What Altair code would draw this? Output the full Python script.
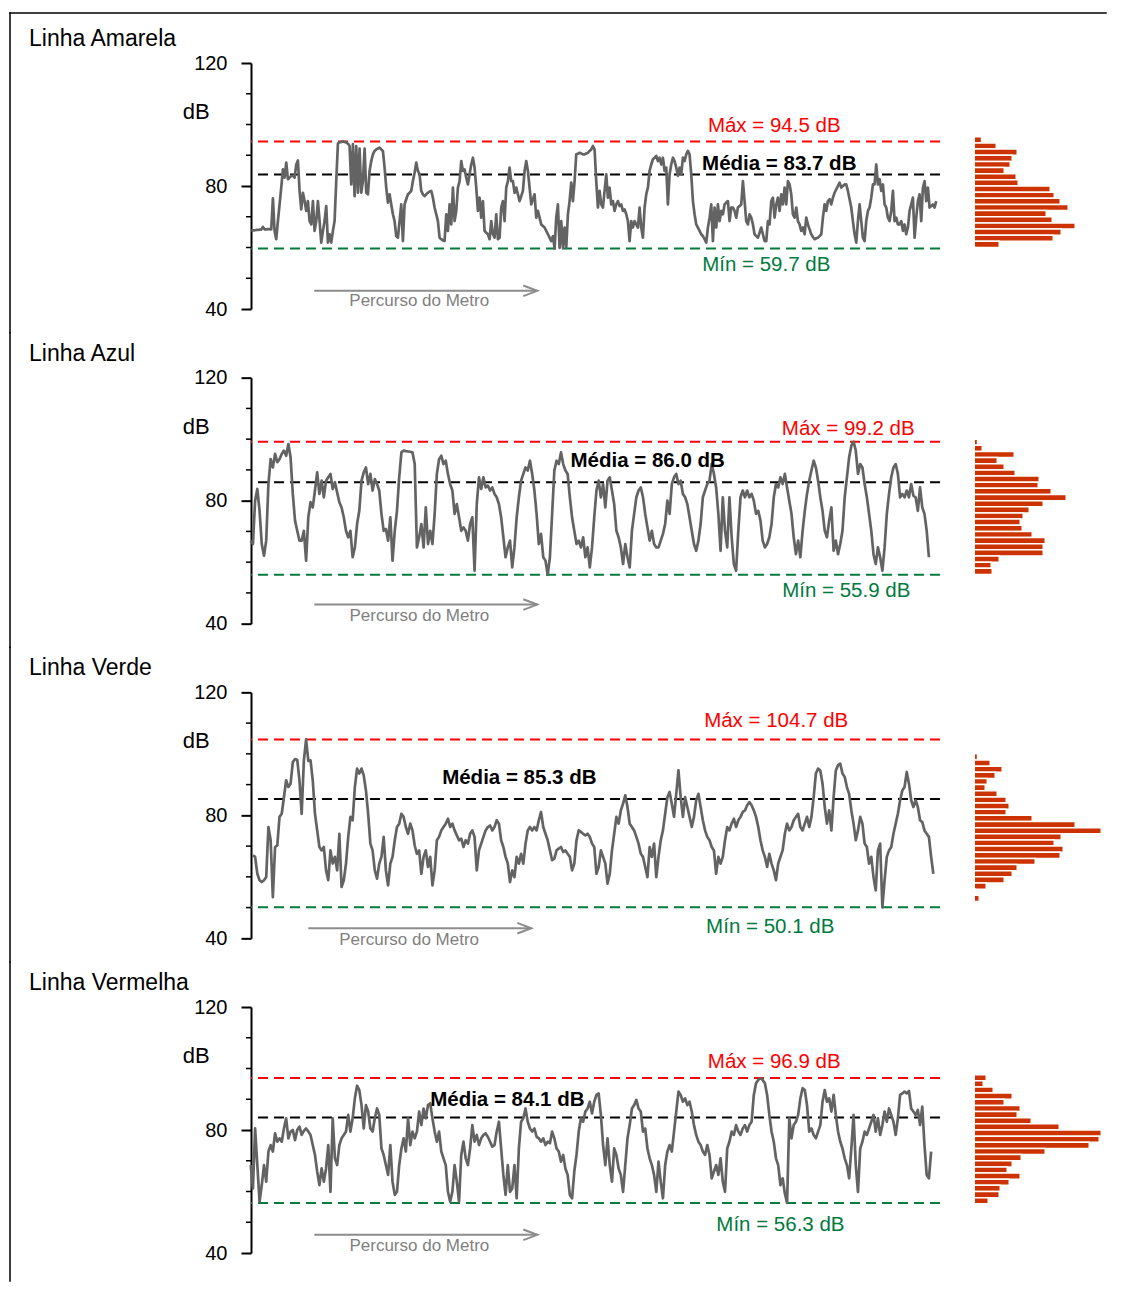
import altair as alt
import pandas as pd

FONT = "Liberation Sans"
W, H = 689, 246
ROW_GAP = 68.67
COL_GAP = 34.25
LINE_COLOR = "#636363"
RED = "#FF0000"
GREEN = "#007A3D"
BAR = "#CC3300"
ROUTE_GRAY = "#8C8C8C"

NAMES = ["Linha Amarela", "Linha Azul", "Linha Verde", "Linha Vermelha"]
MAX_DB = [94.5, 99.2, 104.7, 96.9]
MEAN_DB = [83.7, 86.0, 85.3, 84.1]
MIN_DB = [59.7, 55.9, 50.1, 56.3]

# sound level samples (dB) along each journey
P1_DB = [
    65.6, 65.6, 65.6, 65.7, 65.7, 65.8, 65.8, 66.7, 65.9, 65.9,
    66.0, 66.0, 65.9, 76.0, 65.4, 62.7, 68.6, 74.0, 79.5, 85.4,
    82.7, 87.6, 82.2, 82.7, 83.3, 83.3, 82.7, 87.0, 88.3, 78.4,
    72.4, 77.8, 75.1, 71.9, 75.1, 68.6, 67.5, 75.1, 65.4, 68.6,
    75.1, 68.6, 61.6, 65.4, 68.6, 73.5, 61.6, 64.3, 61.6, 65.4,
    68.6, 81.6, 93.8, 94.3, 94.3, 94.5, 94.4, 94.1, 93.8, 93.0,
    80.5, 93.6, 76.7, 93.0, 77.8, 92.2, 77.8, 81.6, 92.2, 77.8,
    77.3, 84.9, 88.1, 90.3, 91.4, 91.9, 92.2, 92.5, 91.9, 91.4,
    86.0, 79.5, 74.6, 77.3, 74.0, 70.8, 68.6, 63.7, 63.2, 68.6,
    74.0, 62.1, 74.0, 75.7, 77.3, 77.8, 78.4, 81.6, 84.3, 87.6,
    84.9, 83.8, 78.4, 77.3, 76.7, 77.3, 77.8, 78.2, 78.4, 76.2,
    73.0, 70.8, 68.6, 63.2, 62.7, 62.3, 62.1, 70.8, 65.4, 74.0,
    67.5, 79.5, 68.6, 71.9, 79.5, 81.6, 88.1, 84.9, 85.4, 82.7,
    80.5, 83.8, 87.0, 89.2, 86.0, 79.5, 71.9, 76.2, 69.7, 75.1,
    65.4, 64.8, 64.3, 62.7, 68.6, 64.3, 63.2, 70.8, 62.7, 63.2,
    73.0, 75.1, 68.6, 79.5, 81.6, 86.0, 81.6, 81.6, 77.8, 79.5,
    77.3, 75.1, 76.7, 78.4, 84.9, 88.1, 84.9, 79.5, 74.0, 75.7,
    77.3, 69.7, 71.9, 69.7, 67.5, 67.0, 66.5, 65.4, 64.3, 63.2,
    62.1, 63.7, 59.7, 69.7, 74.0, 59.9, 68.6, 59.9, 66.5, 59.9,
    70.8, 75.1, 81.1, 75.1, 81.6, 90.3, 90.5, 90.8, 90.6, 90.3,
    90.3, 90.6, 90.8, 91.4, 91.9,
    93.0, 91.9, 81.6, 73.0, 78.4, 74.0, 73.0, 78.4, 83.8, 76.2,
    79.5, 74.0, 75.1, 71.9, 74.0, 75.1, 73.5, 74.0, 71.9, 72.4,
    70.8, 68.6, 62.1, 68.6, 66.5, 68.6, 67.5, 66.5, 73.0, 66.5,
    63.2, 73.0, 77.3, 79.5, 84.9, 87.0, 88.7, 89.2, 89.8, 88.1,
    89.2, 87.0, 89.2, 84.9, 86.0, 74.0, 83.8, 87.0, 89.2, 88.1,
    86.0, 83.3, 86.0, 83.8, 89.2, 88.1, 90.3, 91.4, 90.3, 83.8,
    75.1, 70.8, 67.5, 66.5, 65.4, 64.3, 63.7, 62.7, 61.6, 66.5,
    69.7, 74.0, 62.1, 73.0, 66.5, 74.0, 68.6, 71.9, 70.8, 74.0,
    74.6, 75.1, 68.6, 73.0, 73.0, 71.9, 69.7, 73.0, 73.5, 74.0,
    81.6, 75.1, 68.6, 67.5, 70.8, 69.7, 67.5, 64.3, 63.7, 63.2,
    64.8, 66.5, 64.3, 62.1, 62.1, 68.6, 67.5, 75.1, 76.2, 69.7,
    74.0, 76.2, 71.9, 77.3, 74.0, 79.5, 74.0, 81.6, 80.5, 77.3,
    70.8, 69.7, 73.0, 68.6, 67.5, 65.4, 66.5, 64.3, 69.7, 67.5,
    65.9, 64.3, 63.4, 62.7, 63.0, 63.2, 63.7, 64.3, 69.7, 74.0,
    71.9, 75.1, 75.7, 74.0, 76.2, 77.8, 78.9, 80.0, 81.1, 79.5,
    80.0, 80.5, 80.5, 78.4, 75.7, 73.0, 68.6, 64.3, 61.6, 68.6,
    74.0, 68.6, 63.2, 62.1, 68.6, 71.9, 73.0, 76.2, 80.5, 80.5,
    87.0, 80.5, 82.2, 78.4, 80.5, 74.0, 73.0, 69.7, 68.6, 71.9,
    78.4, 68.6, 69.7, 67.5, 67.5, 68.6, 65.4, 67.5, 64.3, 66.5,
    71.9, 74.0, 76.2, 63.2, 69.7, 75.1, 77.3, 68.6, 79.5, 81.6,
    75.1, 79.5, 73.0, 73.5, 74.0, 73.0, 75.1,
]

P2_DB = [
    67.0, 65.9, 80.0, 83.8, 76.7, 65.9, 62.1, 67.0, 85.4, 93.5,
    90.8, 95.2, 92.5, 93.5, 95.2, 96.3, 94.6, 98.4, 94.1, 82.2,
    73.5, 70.2, 67.0, 67.0, 70.2, 60.5, 74.6, 79.5, 77.8, 83.3,
    89.2, 82.2, 86.5, 81.1, 86.5, 87.6, 88.7, 83.8, 86.0, 82.7,
    79.5, 77.8, 74.6, 70.2, 68.1, 70.2, 61.6, 64.8, 72.4, 76.7,
    86.5, 89.2, 90.8, 85.4, 88.7, 83.3, 87.0, 85.4, 83.3, 75.7,
    70.2, 70.8, 67.0, 74.6, 60.5, 70.2, 76.7, 87.6, 95.7, 96.3,
    96.1, 96.0, 95.9, 95.7, 91.9, 64.8, 68.1, 72.4, 64.8, 77.8,
    65.9, 70.2, 65.9, 75.7, 88.7, 93.5, 94.6, 91.9, 93.0, 88.7,
    85.4, 83.3, 75.7, 78.9, 74.6, 70.2, 71.3, 70.2, 67.0, 72.4,
    74.6, 57.2, 78.9, 87.6, 83.8, 87.6, 84.3, 84.9, 83.3, 84.3,
    82.2, 81.1, 78.9, 74.6, 68.1, 61.6, 64.8, 67.0, 58.3, 64.8,
    74.6, 81.1, 86.5, 88.7, 90.8, 89.8, 93.0, 88.7, 83.3, 75.7,
    65.9, 69.2, 61.6, 60.5, 55.9, 61.6, 75.7, 89.8, 93.0, 91.9,
    95.7, 91.9, 89.8, 88.7, 81.1, 74.6, 70.2, 65.9, 67.0, 64.8,
    68.1, 61.6, 64.8, 58.3, 64.8, 74.6, 83.3, 86.5, 81.1, 85.4,
    77.8, 86.5, 87.6, 83.3, 78.9, 70.2, 68.1, 64.8, 59.4, 65.9,
    61.6, 58.3, 70.2, 75.7, 81.1, 83.3, 84.3, 81.1, 75.7, 71.3,
    67.0, 70.2, 65.9, 64.8, 64.8, 67.0, 69.2, 72.4, 80.0, 75.7,
    85.4, 87.6, 88.7, 85.4, 86.5, 82.2, 81.1, 78.9, 74.6, 70.2,
    65.9, 63.7, 67.0, 72.4, 81.1, 83.3, 85.4, 86.5, 91.9, 88.7,
    84.3, 75.7, 63.7, 81.1, 70.2, 64.8, 81.1, 68.1, 59.4, 57.2,
    70.2, 81.1, 83.3, 81.1, 83.3, 81.1, 82.2, 80.0, 75.7, 76.7,
    73.5, 67.0, 64.8, 65.9, 68.1, 72.4, 81.1, 85.4, 84.3, 87.6,
    85.4, 88.7, 84.3, 80.0, 75.7, 68.1, 62.6, 67.0, 61.6, 70.2,
    76.7, 82.2, 86.5, 89.8, 93.0, 90.8, 86.5, 81.1, 76.7, 70.2,
    68.1, 73.5, 77.8, 63.7, 67.0, 62.6, 65.9, 70.2, 81.1, 87.6,
    94.1, 97.9, 99.2, 96.3, 88.7, 91.9, 90.8, 85.4, 81.1, 75.7,
    70.2, 62.6, 59.4, 64.8, 61.6, 57.2, 64.8, 75.7, 82.2, 87.6,
    90.8, 91.9, 88.7, 81.1, 82.2, 81.1, 83.3, 81.1, 85.4, 81.6,
    81.1, 76.7, 84.3, 77.8, 75.7, 70.2, 61.6,
]

P3_DB = [
    67.0, 66.5, 61.0, 58.9, 58.3, 58.9, 59.9, 76.2, 71.9, 53.4,
    69.7, 70.2, 79.5, 80.5, 85.9, 91.4, 89.2, 90.3, 97.3, 98.3,
    98.1, 91.4, 80.5, 97.9, 104.7, 97.7, 97.9, 91.4, 80.5, 75.1,
    69.7, 68.6, 69.7, 62.1, 58.9, 68.6, 64.3, 66.5, 62.1, 74.0,
    56.7, 58.9, 64.3, 73.0, 79.5, 78.4, 89.2, 95.2, 93.6, 95.2,
    93.0, 88.1, 80.5, 70.8, 68.6, 62.1, 59.4, 64.3, 66.5, 73.0,
    62.1, 57.2, 64.3, 66.5, 71.9, 76.2, 77.3, 80.5, 79.5, 76.2,
    74.0, 77.3, 75.1, 70.2, 67.5, 68.6, 61.0, 66.5, 68.6, 63.2,
    66.5, 57.2, 62.1, 71.9, 73.0, 75.1, 76.2, 77.3, 78.9, 76.2,
    77.3, 75.1, 73.5, 71.9, 72.4, 69.7, 71.9, 70.8, 74.0, 75.1,
    73.0, 62.1, 68.6, 70.8, 73.0, 75.1, 76.2, 76.7, 75.1, 76.2,
    78.4, 77.3, 71.9, 69.7, 66.5, 64.3, 58.3, 62.1, 59.9, 66.5,
    64.3, 67.5, 64.3, 70.8, 75.1, 76.2, 75.1, 76.2, 75.1, 78.4,
    81.1, 76.2, 74.0, 71.9, 68.6, 65.4, 65.9, 68.6, 69.2, 69.7,
    68.1, 68.6, 67.5, 66.5, 62.1, 64.3, 71.9, 75.1, 74.6, 74.0,
    73.5, 74.0, 73.0, 70.8, 69.7, 61.0, 63.2, 68.6, 66.5, 64.3,
    57.8, 61.0, 68.6, 74.0, 79.5, 77.3, 81.6, 83.8, 86.5, 82.7,
    77.3, 76.2, 75.1, 73.0, 70.8, 67.5, 66.5, 63.2, 59.9, 69.7,
    66.5, 70.8, 59.9, 66.5, 71.9, 75.1, 80.5, 85.9, 87.6, 83.8,
    79.5, 87.0, 94.6, 85.9, 79.5, 85.9, 82.7, 79.5, 76.2, 79.5,
    84.9, 87.0, 82.7, 78.4, 75.1, 73.0, 71.9, 69.7, 68.6, 61.0,
    66.5, 64.3, 66.5, 71.9, 76.2, 75.1, 77.3, 78.9, 76.2, 78.4,
    79.5, 81.1, 81.6, 83.3, 84.3, 83.3, 81.6, 79.5, 76.2, 71.9,
    68.6, 66.5, 63.2, 67.5, 64.3, 62.1, 58.9, 64.3, 66.5, 68.6,
    74.0, 77.3, 75.1, 76.2, 78.4, 79.5, 80.5, 76.2, 75.1, 77.3,
    79.5, 76.2, 79.5, 85.9, 93.6, 95.2, 94.6, 90.3, 82.7, 77.3,
    81.6, 75.1, 85.9, 94.6, 96.3, 96.8, 93.6, 92.5, 89.2, 87.0,
    81.6, 77.3, 71.9, 75.1, 79.5, 77.3, 70.8, 69.7, 64.3, 66.5,
    59.9, 55.6, 68.6, 70.8, 50.1, 58.9, 66.5, 68.6, 69.7, 74.0,
    77.3, 80.5, 84.9, 88.1, 89.2, 94.1, 90.3, 84.9, 82.7, 84.9,
    82.7, 78.4, 77.8, 75.1, 74.0, 73.0, 66.5, 61.0,
]

P4_DB = [
    68.6, 61.0, 80.5, 68.6, 56.7, 62.1, 68.6, 63.2, 73.0, 75.1,
    73.0, 78.9, 76.2, 77.3, 76.2, 80.5, 83.8, 77.3, 79.5, 80.0,
    76.7, 80.0, 81.1, 78.4, 79.7, 80.5, 79.5, 78.4, 75.1, 71.9,
    66.5, 62.1, 67.5, 63.2, 67.5, 75.1, 59.9, 83.8, 70.8, 68.6,
    75.1, 77.3, 78.4, 79.5, 84.9, 79.5, 83.8, 90.3, 94.4, 93.0,
    88.1, 80.5, 88.1, 86.0, 80.5, 79.5, 83.8, 87.0, 84.9, 74.0,
    71.9, 68.6, 65.4, 75.1, 63.2, 58.9, 59.9, 68.6, 74.0, 77.3,
    73.0, 83.8, 75.1, 79.5, 77.3, 79.5, 86.0, 81.6, 87.0, 83.8,
    88.1, 88.7, 83.8, 79.5, 76.2, 79.5, 73.0, 70.8, 68.6, 59.9,
    56.7, 59.9, 68.6, 63.2, 56.7, 71.9, 76.2, 70.8, 68.6, 74.0,
    81.6, 76.2, 78.4, 75.1, 77.3, 78.4, 78.9, 77.8, 76.2, 74.6,
    75.1, 79.5, 82.7, 74.0, 65.4, 58.9, 68.6, 59.9, 61.0, 68.6,
    57.8, 74.0, 82.7, 83.8, 87.0, 82.7, 80.5, 79.5, 80.5, 77.8,
    77.3, 76.2, 77.3, 75.1, 76.2, 75.7, 79.5, 77.3, 74.0, 73.0,
    69.7, 71.9, 67.5, 65.4, 58.9, 57.8, 66.5, 71.9, 79.5, 83.8,
    82.7, 86.0, 87.0, 89.2, 85.4, 89.2, 91.4, 91.9, 84.9, 75.1,
    68.6, 77.3, 68.6, 63.2, 74.0, 71.9, 67.5, 65.4, 59.9, 68.6,
    77.3, 81.6, 87.0, 88.1, 89.8, 87.0, 86.0, 79.5, 80.5, 74.0,
    70.8, 68.6, 65.4, 59.9, 69.7, 63.2, 57.8, 68.6, 73.0, 75.1,
    73.0, 79.5, 86.0, 92.5, 91.4, 89.2, 90.3, 88.1, 89.2, 86.0,
    81.6, 78.4, 76.2, 75.1, 73.0, 71.9, 75.1, 71.9, 64.3, 66.5,
    68.6, 65.4, 70.8, 63.2, 59.9, 74.0, 76.2, 79.5, 78.4, 81.6,
    79.5, 78.4, 80.5, 81.6, 79.5, 81.6, 82.7, 91.4, 95.2, 96.3,
    96.9, 96.3, 95.2, 91.4, 84.9, 79.5, 76.2, 70.8, 68.6, 62.1,
    64.3, 59.4, 56.3, 83.8, 77.3, 81.6, 82.7, 84.9, 90.3, 93.6,
    93.0, 88.1, 79.5, 80.5, 78.4, 77.3, 79.5, 81.6, 89.2, 93.0,
    89.2, 90.3, 86.0, 91.4, 84.9, 79.5, 76.2, 74.0, 70.8, 68.6,
    64.3, 74.0, 84.9, 68.6, 59.9, 74.0, 76.2, 79.5, 78.4, 80.5,
    82.7, 84.9, 79.5, 83.8, 78.4, 81.6, 86.0, 82.7, 87.0, 84.9,
    82.7, 78.4, 83.8, 91.4, 91.9, 92.5, 91.9, 92.7, 87.0, 86.0,
    84.9, 86.5, 81.6, 87.6, 75.1, 65.4, 64.3, 73.0,
]

SERIES = [P1_DB, P2_DB, P3_DB, P4_DB]
# sample-index range covered by the plot width of each panel
X_DOMAINS = [[-0.15, 413.25], [0.14, 311.0], [-0.86, 310.0], [0.14, 311.0]]

# annotation anchors (sample index, dB)
MAX_LABEL_X = [313.8, 269.6, 236.1, 236.2]
MAX_LABEL_Y = [99.5, 103.4, 110.6, 102.1]
MEAN_LABEL_X = [316.8, 179.1, 120.2, 115.8]
MEAN_LABEL_Y = [87.2, 93.0, 92.0, 89.8]
MIN_LABEL_X = [309.0, 268.7, 233.4, 239.0]
MIN_LABEL_Y = [54.3, 50.7, 43.6, 49.1]
ARROW_X1 = [37.8, 28.7, 25.0, 28.7]
ARROW_X2 = [171.6, 129.3, 125.6, 129.3]
ARROW_Y = [45.9, 46.2, 43.3, 45.9]
ROUTE_X = [100.8, 76.1, 70.5, 76.1]
ROUTE_Y = [42.6, 42.6, 39.3, 42.3]

# histograms: 2 dB bins, listed from the top bin downwards
HIST_TOP = [96, 100, 100, 98]
HIST_1 = [7.3, 22, 43, 38, 36, 30, 42, 44, 76, 80, 86, 94, 72, 78, 101, 87, 79, 25, 1.3]
HIST_2 = [3.3, 8, 40, 23, 30, 41, 65, 64, 77, 92, 69, 55, 49, 46, 48, 58, 71, 69, 69, 25, 17, 18, 0.6]
HIST_3 = [3.3, 16, 28, 21, 13, 11, 23, 32, 35, 32, 58, 101, 127, 87, 80, 89, 86, 61, 43, 38, 30, 12, 1.3, 5]
HIST_4 = [12, 9, 19, 38, 30, 46, 43, 57, 85, 127, 125, 115, 71, 47, 38, 33, 46, 35, 26, 25, 14]
HISTS = [HIST_1, HIST_2, HIST_3, HIST_4]

MINOR_TICKS = [50, 60, 70, 90, 100, 110]
ARROW_SHAPE = "M-1,-0.38L0,0L-1,0.38"

ONE = pd.DataFrame({"a": [0]})


def line_panel(k):
    xs = alt.Scale(domain=X_DOMAINS[k], nice=False, zero=False)
    ys = alt.Scale(domain=[40, 120], nice=False, zero=False)
    yaxis = alt.Axis(
        values=[40, 80, 120], tickSize=10, tickWidth=2, tickColor="black",
        domainColor="black", domainWidth=2, labelFontSize=20, labelFont=FONT,
        labelColor="black", labelPadding=14, grid=False,
        title="dB", titleAngle=0, titleX=-55.25, titleY=48.5,
        titleAlign="center", titleBaseline="middle", titleFontSize=22,
        titleFontWeight="normal", titleFont=FONT, titleColor="black",
    )
    X = lambda f: alt.X(f, scale=xs, axis=None)
    Y = lambda f: alt.Y(f, scale=ys, axis=yaxis)

    df = pd.DataFrame({"i": list(range(len(SERIES[k]))), "db": SERIES[k]})
    line = alt.Chart(df).mark_line(
        color=LINE_COLOR, strokeWidth=2.7, strokeJoin="round"
    ).encode(x=X("i:Q"), y=Y("db:Q"))

    minor = alt.Chart(pd.DataFrame({"v": MINOR_TICKS})).mark_rule(
        color="black", strokeWidth=1.5
    ).encode(x=alt.value(-5), x2=alt.value(0), y=Y("v:Q"))

    def hrule(val, color):
        return alt.Chart(pd.DataFrame({"v": [val]})).mark_rule(
            color=color, strokeWidth=2, strokeDash=[10, 6]
        ).encode(y=Y("v:Q"))

    def label(x, y, text, color, weight="normal"):
        return alt.Chart(pd.DataFrame({"x": [x], "y": [y], "t": [text]})).mark_text(
            font=FONT, fontSize=20.5, color=color, fontWeight=weight,
            align="center", baseline="middle"
        ).encode(x=X("x:Q"), y=Y("y:Q"), text="t:N")

    max_lab = label(MAX_LABEL_X[k], MAX_LABEL_Y[k], f"Máx = {MAX_DB[k]:.1f} dB", RED)
    mean_lab = label(MEAN_LABEL_X[k], MEAN_LABEL_Y[k], f"Média = {MEAN_DB[k]:.1f} dB", "black", "bold")
    min_lab = label(MIN_LABEL_X[k], MIN_LABEL_Y[k], f"Mín = {MIN_DB[k]:.1f} dB", GREEN)

    arrow_df = pd.DataFrame({"x1": [ARROW_X1[k]], "x2": [ARROW_X2[k]], "y": [ARROW_Y[k]]})
    arrow = alt.Chart(arrow_df).mark_rule(color=ROUTE_GRAY, strokeWidth=2).encode(
        x=X("x1:Q"), x2="x2:Q", y=Y("y:Q"))
    head = alt.Chart(arrow_df).mark_point(
        shape=ARROW_SHAPE, size=784, filled=False, stroke=ROUTE_GRAY,
        strokeWidth=2, opacity=1
    ).encode(x=X("x2:Q"), y=Y("y:Q"))
    route = alt.Chart(pd.DataFrame({"x": [ROUTE_X[k]], "y": [ROUTE_Y[k]]})).mark_text(
        font=FONT, fontSize=17, color="#7F7F7F", align="center", baseline="middle",
        text="Percurso do Metro"
    ).encode(x=X("x:Q"), y=Y("y:Q"))

    title = alt.Chart(ONE).mark_text(
        font=FONT, fontSize=23, color="black", align="left", baseline="middle",
        text=NAMES[k]
    ).encode(x=alt.value(-222), y=alt.value(-24))

    top_ext = 50 if k == 0 else 45
    bottom_ext = (H + 28) if k == 3 else (H + ROW_GAP - 45)
    left_border = alt.Chart(ONE).mark_rule(
        color="black", strokeWidth=1.5, strokeCap="square"
    ).encode(x=alt.value(-241), y=alt.value(-top_ext), y2=alt.value(bottom_ext))

    layers = [minor, hrule(MAX_DB[k], RED), hrule(MEAN_DB[k], "black"),
              hrule(MIN_DB[k], GREEN), line, max_lab, mean_lab, min_lab,
              arrow, head, route, title, left_border]
    if k == 0:
        top_border = alt.Chart(ONE).mark_rule(
            color="black", strokeWidth=1.5, strokeCap="square"
        ).encode(x=alt.value(-241), x2=alt.value(855), y=alt.value(-50))
        layers.append(top_border)
    return alt.layer(*layers).properties(width=W, height=H)


def hist_panel(k):
    vals = HISTS[k]
    his = [HIST_TOP[k] - 2 * j for j in range(len(vals))]
    hdf = pd.DataFrame({
        "x0": [0] * len(vals),
        "val": vals,
        "hi": his,
        "lo": [h - 2 for h in his],
    })
    ys = alt.Scale(domain=[40, 120], nice=False, zero=False)
    bars = alt.Chart(hdf).mark_rect(color=BAR, stroke="white", strokeWidth=1.5).encode(
        x=alt.X("x0:Q", scale=alt.Scale(domain=[0, 130], nice=False), axis=None),
        x2="val:Q",
        y=alt.Y("lo:Q", scale=ys, axis=None),
        y2="hi:Q",
    )
    return bars.properties(width=130, height=H)


cells = []
for k in range(4):
    cells.append(line_panel(k))
    cells.append(hist_panel(k))

chart = alt.concat(
    *cells, columns=2, spacing={"row": ROW_GAP, "column": COL_GAP}, bounds="flush"
).properties(
    padding={"left": 0, "top": 3, "right": 0, "bottom": 0}
).configure(
    font=FONT, view=alt.ViewConfig(stroke="transparent", strokeWidth=0)
)

chart.save("out.html", embed_options={"renderer": "svg", "actions": False})
